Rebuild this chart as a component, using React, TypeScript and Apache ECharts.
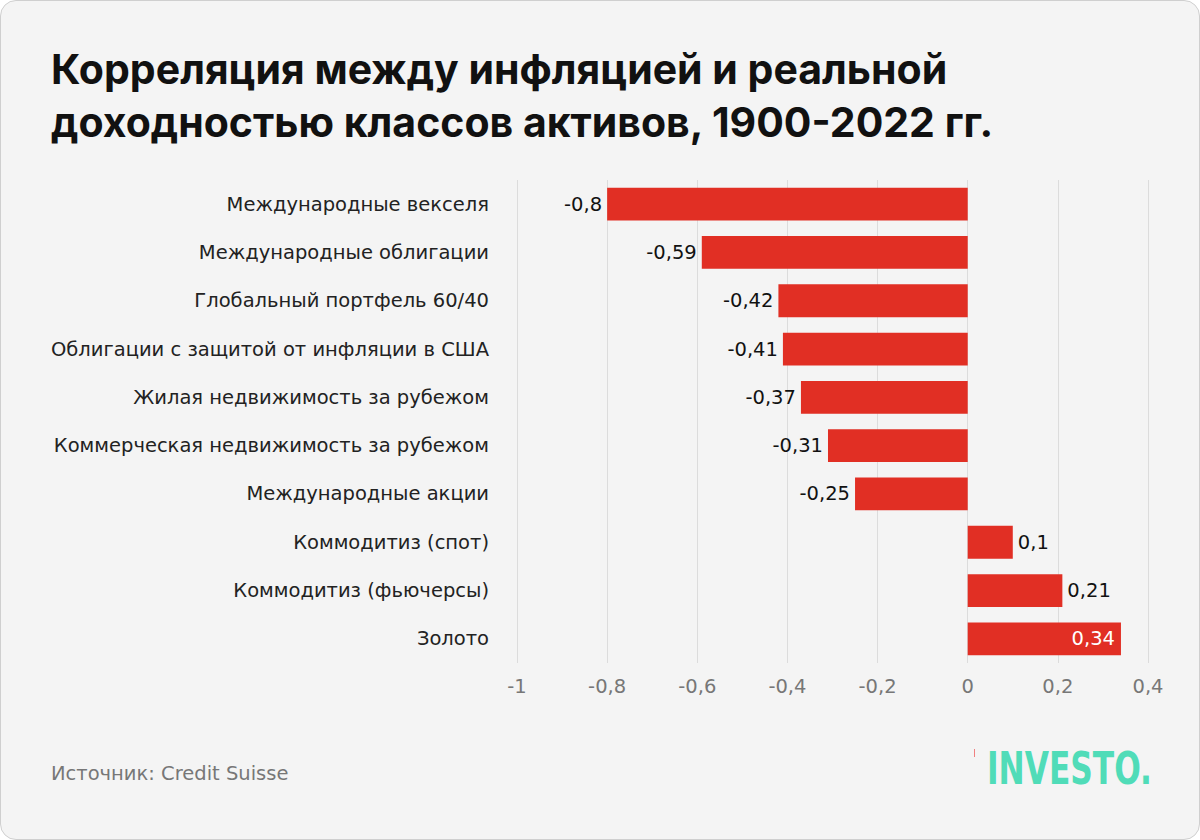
import React, { useEffect, useRef } from "react";
import * as echarts from "echarts";

const categories = [
  "Международные векселя",
  "Международные облигации",
  "Глобальный портфель 60/40",
  "Облигации с защитой от инфляции в США",
  "Жилая недвижимость за рубежом",
  "Коммерческая недвижимость за рубежом",
  "Международные акции",
  "Коммодитиз (спот)",
  "Коммодитиз (фьючерсы)",
  "Золото",
];
const values = [-0.8, -0.59, -0.42, -0.41, -0.37, -0.31, -0.25, 0.1, 0.21, 0.34];
const insideLabelIndex = 9;

const fmt = (v: number) => String(v).replace(".", ",");

export default function App() {
  const ref = useRef<HTMLDivElement>(null);
  useEffect(() => {
    document.body.style.margin = "0";
    const chart = echarts.init(ref.current!, null, { renderer: "svg" });
    const titleFont = "Inter, 'Noto Sans', sans-serif";
    const font = "'DejaVu Sans', Inter, sans-serif";
    chart.setOption({
      animation: false,
      textStyle: { fontFamily: font },
      grid: { left: 516, right: 51, top: 179, bottom: 176, containLabel: false },
      xAxis: {
        type: "value",
        min: -1,
        max: 0.4,
        interval: 0.2,
        axisLine: { show: false },
        axisTick: { show: false },
        splitLine: { lineStyle: { color: "#dcdcdc", width: 1 } },
        axisLabel: {
          formatter: (v: number) => fmt(Math.round(v * 10) / 10),
          color: "#777",
          fontSize: 19.5,
          margin: 13,
          fontFamily: font,
        },
      },
      yAxis: {
        type: "category",
        inverse: true,
        data: categories,
        axisLine: { show: false },
        axisTick: { show: false },
        axisLabel: { color: "#222", fontSize: 19.5, margin: 28, fontFamily: font },
      },
      series: [
        {
          type: "bar",
          barCategoryGap: "32%",
          data: values.map((v, i) => ({
            value: v,
            label:
              i === insideLabelIndex
                ? { position: "insideRight", color: "#fff", distance: 6 }
                : { position: v < 0 ? "left" : "right", color: "#111", distance: 5 },
          })),
          itemStyle: { color: "#e12f24" },
          label: {
            show: true,
            fontSize: 19.5,
            fontFamily: font,
            formatter: (p: any) => fmt(p.value),
          },
        },
      ],
      graphic: [
        {
          type: "text",
          left: 50,
          top: 41,
          style: {
            text: "Корреляция между инфляцией и реальной\nдоходностью классов активов, 1900-2022 гг.",
            font: `bold 41px ${titleFont}`,
            fill: "#111",
            lineHeight: 53,
          },
        },
        {
          type: "text",
          left: 50,
          top: 762,
          style: { text: "Источник: Credit Suisse", font: `19.5px ${font}`, fill: "#777" },
        },
        {
          type: "rect",
          left: 973,
          top: 748,
          shape: { width: 1, height: 8 },
          style: { fill: "#f08080" },
        },
        {
          type: "text",
          x: 986,
          y: 745,
          scaleX: 0.79,
          style: {
            text: "INVESTO.",
            font: `bold 44px 'DejaVu Sans Condensed', 'DejaVu Sans', sans-serif`,
            fill: "#50dcb8",
          },
        },
      ],
    });
    return () => chart.dispose();
  }, []);
  return (
    <div
      style={{
        position: "absolute",
        left: 0,
        top: 0,
        width: 1198,
        height: 838,
        border: "1px solid #cfcfcf",
        borderRadius: 16,
        background: "#f4f4f4",
        overflow: "hidden",
      }}
    >
      <div ref={ref} style={{ width: 1198, height: 838 }} />
    </div>
  );
}
